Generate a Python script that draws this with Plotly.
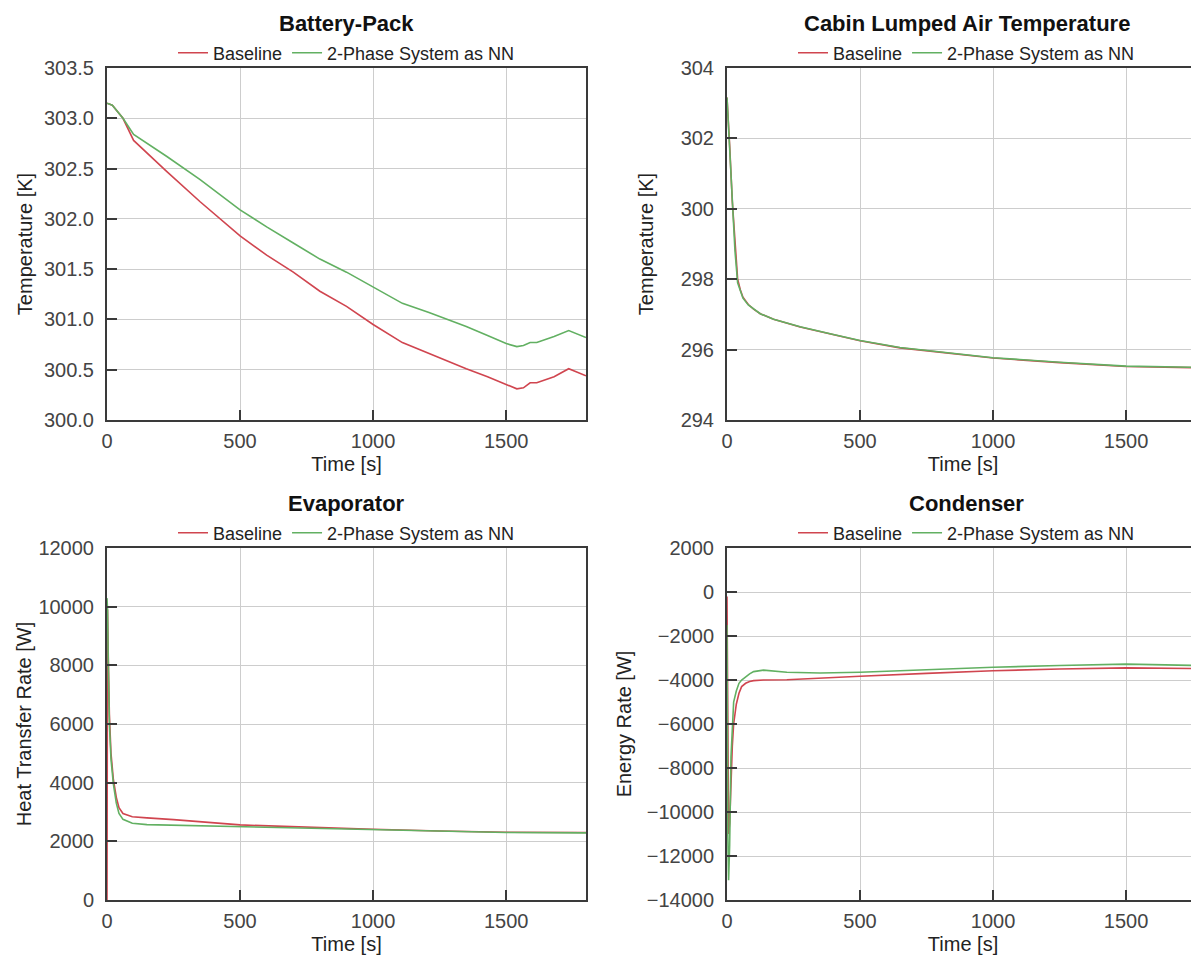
import plotly.graph_objects as go

# ---------------- data ----------------
series_names = ["Baseline", "2-Phase System as NN"]
x_ticks = [0, 500, 1000, 1500]

# Battery-Pack temperature [K]
bat_t = [0, 20, 60, 100, 225, 350, 500, 600, 700, 800, 900, 1000, 1110, 1210,
         1280, 1350, 1430, 1500, 1540, 1565, 1590, 1615, 1680, 1735, 1800]
bat_base = [303.15, 303.13, 303.0, 302.78, 302.47, 302.17, 301.83, 301.64, 301.47,
            301.28, 301.13, 300.95, 300.77, 300.66, 300.58, 300.51, 300.43, 300.35,
            300.31, 300.32, 300.37, 300.37, 300.43, 300.51, 300.44]
bat_nn = [303.15, 303.13, 303.0, 302.84, 302.62, 302.39, 302.09, 301.92, 301.76,
          301.6, 301.47, 301.32, 301.16, 301.07, 301.0, 300.93, 300.84, 300.76,
          300.73, 300.74, 300.77, 300.77, 300.83, 300.89, 300.82]

# Cabin lumped air temperature [K]
cab_t = [0, 5, 10, 20, 30, 40, 50, 60, 80, 100, 125, 175, 275, 400, 500, 650,
         800, 1000, 1250, 1500, 1800]
cab_base = [303.16, 302.6, 301.8, 300.2, 299.0, 298.0, 297.7, 297.49, 297.28,
            297.15, 297.02, 296.86, 296.64, 296.42, 296.25, 296.05, 295.92,
            295.76, 295.63, 295.52, 295.48]
cab_nn = [303.16, 302.4, 301.5, 299.9, 298.8, 297.9, 297.65, 297.46, 297.27,
          297.15, 297.02, 296.86, 296.65, 296.43, 296.26, 296.06, 295.93,
          295.77, 295.64, 295.53, 295.49]

# Evaporator heat transfer rate [W]
eva_t = [0, 0.5, 2, 5, 9, 15, 24, 35, 45, 60, 95, 150, 250, 500, 750, 1000,
         1250, 1500, 1800]
eva_base = [0, 3500, 9900, 8200, 6300, 5000, 4100, 3500, 3150, 2950, 2840, 2800,
            2740, 2560, 2480, 2410, 2350, 2310, 2300]
eva_nn = [10290, 10250, 9900, 8000, 6000, 4800, 3950, 3300, 2950, 2750, 2614,
          2570, 2550, 2500, 2440, 2386, 2340, 2300, 2290]

# Condenser energy rate [W]
con_t = [0, 1, 3, 6, 10, 15, 20, 25, 35, 45, 55, 70, 85, 100, 137, 225, 350,
         500, 750, 1000, 1250, 1500, 1800]
con_base = [-200, -3000, -8000, -11000, -10500, -8500, -7000, -6000, -5100, -4600,
            -4300, -4150, -4070, -4030, -4000, -3990, -3930, -3830, -3700, -3580,
            -3500, -3450, -3480]
con_nn = [-1500, -6000, -11000, -13100, -11500, -7500, -5800, -5000, -4500, -4150,
          -4000, -3850, -3720, -3620, -3550, -3650, -3680, -3650, -3520, -3420,
          -3340, -3280, -3350]

titles = ["Battery-Pack", "Cabin Lumped Air Temperature", "Evaporator", "Condenser"]
y_titles = ["Temperature [K]", "Temperature [K]", "Heat Transfer Rate [W]", "Energy Rate [W]"]

# ---------------- styling ----------------
OFF = 8  # page body margin
W, H = 1199 - OFF, 955 - OFF
FONT = "Liberation Sans, Arial, sans-serif"
RED = "#d0454f"
GREEN = "#62b062"
AXC = "#3a3a3a"
GRID = "#cdcdcd"
TICKC = "#444444"

def px_x(p):
    return (p - OFF) / W

def px_y(p):
    return 1 - (p - OFF) / H

left_dom = [px_x(107), px_x(586)]
right_dom = [px_x(727), 1.0]
top_dom = [px_y(420), px_y(68)]
bot_dom = [px_y(900), px_y(548)]

panels = [
    dict(t=bat_t, ys=[bat_base, bat_nn], xd=left_dom, yd=top_dom, xr=[0, 1800],
         yr=[300.0, 303.5], dt=0.5, fmt=".1f", mirror_y=True, std=6, legy=53, tity=23, cx=346.5),
    dict(t=cab_t, ys=[cab_base, cab_nn], xd=right_dom, yd=top_dom, xr=[0, 1774],
         yr=[294, 304], dt=2, fmt="d", mirror_y=False, std=22, legy=53, tity=23, cx=966.5),
    dict(t=eva_t, ys=[eva_base, eva_nn], xd=left_dom, yd=bot_dom, xr=[0, 1800],
         yr=[0, 12000], dt=2000, fmt="d", mirror_y=True, std=1, legy=533, tity=503, cx=346.5),
    dict(t=con_t, ys=[con_base, con_nn], xd=right_dom, yd=bot_dom, xr=[0, 1774],
         yr=[-14000, 2000], dt=2000, fmt="d", mirror_y=False, std=10, legy=533, tity=503, cx=966.5),
]

fig = go.Figure()
annotations = []
layout = dict(
    width=W, height=H, autosize=False,
    margin=dict(l=0, r=0, t=0, b=0, pad=0),
    paper_bgcolor="white", plot_bgcolor="white",
    font=dict(family=FONT, color="#222222", size=20),
)

for i, p in enumerate(panels):
    n = i + 1
    xa = "x" if n == 1 else f"x{n}"
    ya = "y" if n == 1 else f"y{n}"
    leg = "legend" if n == 1 else f"legend{n}"
    for k, (name, col) in enumerate(zip(series_names, [RED, GREEN])):
        fig.add_trace(go.Scatter(
            x=p["t"], y=p["ys"][k], mode="lines", name=name,
            line=dict(color=col, width=1.6),
            xaxis=xa, yaxis=ya, legend=leg, showlegend=True,
        ))
    xcenter = px_x(p["cx"])
    xkey = "xaxis" if n == 1 else f"xaxis{n}"
    ykey = "yaxis" if n == 1 else f"yaxis{n}"
    layout[xkey] = dict(
        domain=p["xd"], range=p["xr"], anchor=ya,
        tickmode="array", tickvals=x_ticks,
        ticks="inside", ticklen=10, tickwidth=2, tickcolor=AXC,
        showline=True, linecolor=AXC, linewidth=2, mirror=True,
        showgrid=True, gridcolor=GRID, gridwidth=1, zeroline=False,
        tickfont=dict(size=20, color=TICKC, family=FONT),
        ticklabelstandoff=2,
        title=dict(text="Time [s]", font=dict(size=20, color="#222222", family=FONT), standoff=6),
        automargin=False,
    )
    layout[ykey] = dict(
        domain=p["yd"], range=p["yr"], anchor=xa,
        tick0=p["yr"][0], dtick=p["dt"], tickformat=p["fmt"],
        ticks="inside", ticklen=10, tickwidth=2, tickcolor=AXC,
        showline=True, linecolor=AXC, linewidth=2, mirror=p["mirror_y"],
        showgrid=True, gridcolor=GRID, gridwidth=1, zeroline=False,
        tickfont=dict(size=20, color=TICKC, family=FONT),
        ticklabelstandoff=7,
        title=dict(text=y_titles[i], font=dict(size=20, color="#222222", family=FONT), standoff=p["std"]),
        automargin=False,
    )
    layout[leg] = dict(
        orientation="h", x=xcenter, y=px_y(p["legy"]), xanchor="center", yanchor="middle",
        font=dict(size=18, color="#222222", family=FONT), bgcolor="rgba(0,0,0,0)",
        itemwidth=30, tracegroupgap=0,
    )
    annotations.append(dict(
        text=f"<b>{titles[i]}</b>", x=xcenter, y=px_y(p["tity"]), xref="paper", yref="paper",
        xanchor="center", yanchor="middle", showarrow=False,
        font=dict(size=22, color="#111111", family=FONT),
    ))

layout["annotations"] = annotations
fig.update_layout(**layout)
fig.write_html("out.html")
